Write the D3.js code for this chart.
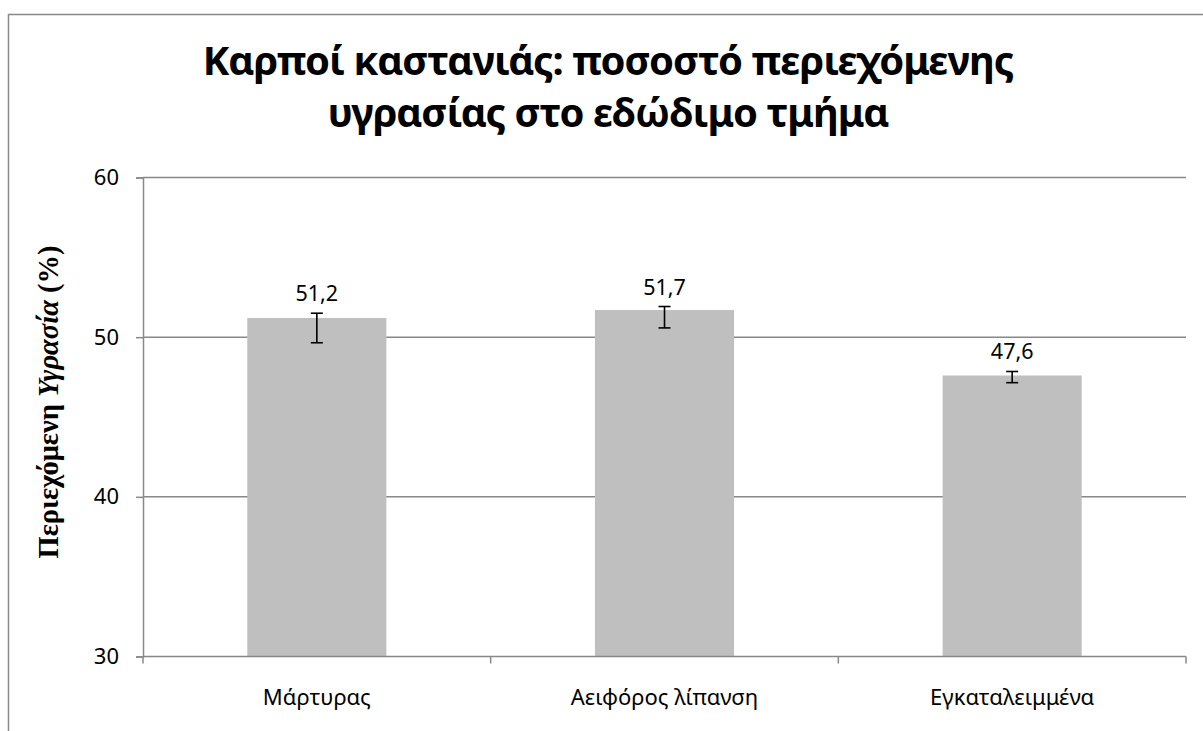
<!DOCTYPE html>
<html><head><meta charset="utf-8">
<script src="https://cdn.jsdelivr.net/npm/d3@7"></script>
<style>html,body{margin:0;padding:0;background:#fff;}svg{display:block;}</style>
</head><body>
<svg id="chart" width="1203" height="731"></svg>
<script>
const categories = ["Μάρτυρας", "Αειφόρος λίπανση", "Εγκαταλειμμένα"];
const values = [51.2, 51.7, 47.6];
const valueLabels = ["51,2", "51,7", "47,6"];
const errPlus = [0.3, 0.22, 0.25];
const errMinus = [1.55, 1.12, 0.45];
const yTicks = [30, 40, 50, 60];
const titleLines = ["Καρποί καστανιάς: ποσοστό περιεχόμενης", "υγρασίας στο εδώδιμο τμήμα"];

const svg = d3.select("#chart");
const m = {left: 143, right: 1186, top: 177.5, bottom: 656.5};
const grey = "#888888";

// outer frame (left and top edges visible)
svg.append("path").attr("d", "M8.5,731 V14.5 H1203").attr("fill", "none").attr("stroke", grey).attr("stroke-width", 1.5);

const x = d3.scaleBand().domain(categories).range([m.left, m.right]).paddingInner(0.6).paddingOuter(0.3);
const y = d3.scaleLinear().domain([30, 60]).range([m.bottom, m.top]);

// gridlines
svg.append("g").selectAll("line").data(yTicks.filter(t => t > 30)).join("line")
  .attr("x1", m.left).attr("x2", m.right).attr("y1", d => y(d)).attr("y2", d => y(d))
  .attr("stroke", grey).attr("stroke-width", 1.5);

// bars
svg.append("g").selectAll("rect").data(values).join("rect")
  .attr("x", (d, i) => x(categories[i])).attr("width", x.bandwidth())
  .attr("y", d => y(d)).attr("height", d => y(30) - y(d))
  .attr("fill", "#bfbfbf");

// y axis
const yAxis = svg.append("g").attr("transform", `translate(${m.left},0)`)
  .call(d3.axisLeft(y).tickValues(yTicks).tickSize(7).tickPadding(17).tickFormat(d3.format("d")));
yAxis.select(".domain").attr("stroke", grey).attr("stroke-width", 1.5);
yAxis.selectAll(".tick line").attr("stroke", grey).attr("stroke-width", 1.5);
yAxis.selectAll("text").attr("font-family", "Noto Sans").attr("font-size", 22).attr("fill", "#000");

// x axis with ticks at category boundaries
const xb = d3.scaleLinear().domain([0, 3]).range([m.left, m.right]);
const xAxisG = svg.append("g").attr("transform", `translate(0,${m.bottom})`);
xAxisG.append("line").attr("x1", m.left).attr("x2", m.right).attr("stroke", grey).attr("stroke-width", 1.5);
xAxisG.selectAll("line.tk").data([0, 1, 2, 3]).join("line").attr("class", "tk")
  .attr("x1", d => xb(d)).attr("x2", d => xb(d)).attr("y1", 0).attr("y2", 7)
  .attr("stroke", grey).attr("stroke-width", 1.5);
xAxisG.selectAll("text").data(categories).join("text")
  .attr("x", d => x(d) + x.bandwidth() / 2).attr("y", 48.5)
  .attr("text-anchor", "middle").attr("font-family", "Noto Sans").attr("font-size", 22).attr("fill", "#000")
  .text(d => d);

// error bars
const eg = svg.append("g").attr("stroke", "#000").attr("stroke-width", 1.6);
values.forEach((v, i) => {
  const cx = x(categories[i]) + x.bandwidth() / 2;
  const yt = y(v + errPlus[i]), yb = y(v - errMinus[i]);
  eg.append("line").attr("x1", cx).attr("x2", cx).attr("y1", yt).attr("y2", yb);
  eg.append("line").attr("x1", cx - 6).attr("x2", cx + 6).attr("y1", yt).attr("y2", yt);
  eg.append("line").attr("x1", cx - 6).attr("x2", cx + 6).attr("y1", yb).attr("y2", yb);
});

// value labels
svg.append("g").selectAll("text").data(values).join("text")
  .attr("x", (d, i) => x(categories[i]) + x.bandwidth() / 2)
  .attr("y", (d, i) => y(d + errPlus[i]) - 12)
  .attr("text-anchor", "middle").attr("font-family", "Noto Sans").attr("font-size", 21.5).attr("fill", "#000")
  .text((d, i) => valueLabels[i]);

// title
svg.append("g").selectAll("text").data(titleLines).join("text")
  .attr("x", 608).attr("y", (d, i) => 75 + i * 52)
  .attr("text-anchor", "middle").attr("font-family", "Noto Sans").attr("font-weight", "bold")
  .attr("font-size", 40).attr("letter-spacing", -1).attr("fill", "#000").text(d => d);

// y axis title
const yt = svg.append("text").attr("transform", "translate(58,402) rotate(-90)")
  .attr("text-anchor", "middle").attr("font-family", "Liberation Serif").attr("font-weight", "bold")
  .attr("font-size", 28.5).attr("fill", "#000");
yt.append("tspan").text("Περιεχόμενη ");
yt.append("tspan").attr("font-style", "italic").text("Υγρασία");
yt.append("tspan").text(" (%)");
</script>
</body></html>
